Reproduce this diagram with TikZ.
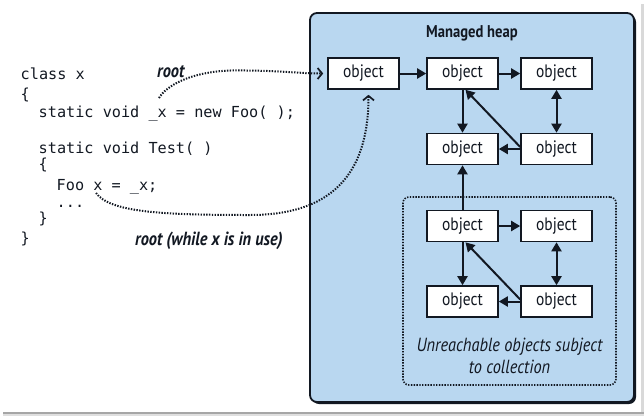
\documentclass[tikz,border=0pt]{standalone}
\usepackage{fontspec}
\setmainfont{PT Sans}
\newfontfamily\condfont[FakeStretch=0.86]{PT Sans}
\newfontfamily\codefont{DejaVu Sans Mono}
\usetikzlibrary{arrows.meta,calc}
\definecolor{heapblue}{RGB}{185,215,240}
\definecolor{ink}{RGB}{18,24,34}
\tikzset{
  obj/.style={draw=ink, line width=1.6bp, fill=white, minimum width=71bp, minimum height=31bp,
    inner sep=0pt, text=ink, font=\condfont\fontsize{18bp}{21bp}\selectfont},
  link/.style={draw=ink, line width=2bp, -{Triangle[length=9bp,width=10bp]}},
  dlink/.style={draw=ink, line width=2bp, {Triangle[length=9bp,width=10bp]}-{Triangle[length=9bp,width=10bp]}},
  rootref/.style={draw=ink, line width=2bp, dash pattern=on 1.4bp off 1.4bp,
    -{Straight Barb[length=4.5bp,width=11bp,line width=1.7bp]}},
  code/.style={anchor=base west, inner sep=0pt, text=ink, font=\codefont\fontsize{15.2bp}{18bp}\selectfont},
  rootlabel/.style={anchor=base west, inner sep=0pt, text=ink, font=\condfont\fontsize{19bp}{22bp}\selectfont\bfseries\itshape},
}
\begin{document}
\begin{tikzpicture}[x=1bp,y=-1bp]
\useasboundingbox (0,0) rectangle (644,416);
% screenshot frame shadow
\fill[gray!30] (640.5,4) rectangle (643.5,414);
\fill[gray!70] (3,411.5) rectangle (643.5,413.5);
\fill[gray!25] (3,413.5) rectangle (643.5,415.5);
% managed heap
\fill[ink, rounded corners=7bp] (312,15) rectangle (636,404);
\node[draw=ink, line width=1.8bp, fill=heapblue, rounded corners=7bp, minimum width=324bp,
  minimum height=389bp, inner sep=0pt] (heap) at (472,207.5) {};
\node[inner sep=0pt, text=ink, font=\condfont\fontsize{17bp}{20bp}\selectfont\bfseries] (title) at (472,33) {Managed heap};
% unreachable group
\node[draw=ink, line width=1.6bp, dash pattern=on 1.4bp off 1.4bp, rounded corners=6bp,
  minimum width=213bp, minimum height=188bp, inner sep=0pt] (group) at (509.5,291) {};
\node[inner sep=0pt, text=ink, align=center, font=\condfont\fontsize{19bp}{22bp}\selectfont\itshape] (ulabel) at (509.5,356)
  {Unreachable objects subject\\to collection};
% objects
\node[obj] (o1) at (363.5,73.5) {object};
\node[obj] (o2) at (462.5,73.5) {object};
\node[obj] (o3) at (556.5,73.5) {object};
\node[obj] (o4) at (462.5,149) {object};
\node[obj] (o5) at (556.5,149) {object};
\node[obj] (o6) at (462.5,226) {object};
\node[obj] (o7) at (556.5,226) {object};
\node[obj] (o8) at (462.5,301.5) {object};
\node[obj] (o9) at (556.5,301.5) {object};
% links
\draw[link] (o1) -- (o2);
\draw[link] (o2) -- (o3);
\draw[link] (o2) -- (o4);
\draw[dlink] (o3) -- (o5);
\draw[link] (o5) -- (o4);
\draw[link] ($(o5.west)+(0,-2)$) -- ($(o2.south)+(3,0)$);
\draw[link] (o6) -- (o4);
\draw[link] (o6) -- (o7);
\draw[link] (o6) -- (o8);
\draw[dlink] (o7) -- (o9);
\draw[link] (o9) -- (o8);
\draw[link] ($(o9.west)+(0,-2)$) -- ($(o6.south)+(3,0)$);
% code
\node[code] (l1) at (20.5,79) {class x};
\node[code] (l2) at (20.5,99) {\{};
\node[code] (l3) at (38.5,117) {static void \_x = new Foo( );};
\node[code] (l4) at (38.5,153) {static void Test( )};
\node[code] (l5) at (38.5,169) {\{};
\node[code] (l6) at (56.5,190) {Foo x = \_x;};
\node[code] (l7) at (56.5,207) {...};
\node[code] (l8) at (38.5,223) {\}};
\node[code] (l9) at (20.5,243) {\}};
\node[rootlabel] (r1) at (157,77) {root};
\node[rootlabel] (r2) at (135,245) {root (while x is in use)};
% root references
\coordinate (c1) at (159,98);
\coordinate (c2) at (96,193);
\draw[rootref, shorten >=4bp] (c1) .. controls (166,86) and (190,72) .. (230,70.5)
  .. controls (275,70) and (300,73.5) .. (o1.west);
\draw[rootref, shorten >=5bp] (c2) .. controls (110,212) and (160,215) .. (250,215)
  .. controls (340,215) and (368.5,165) .. ($(o1.south)+(5,0)$);
\end{tikzpicture}
\end{document}
